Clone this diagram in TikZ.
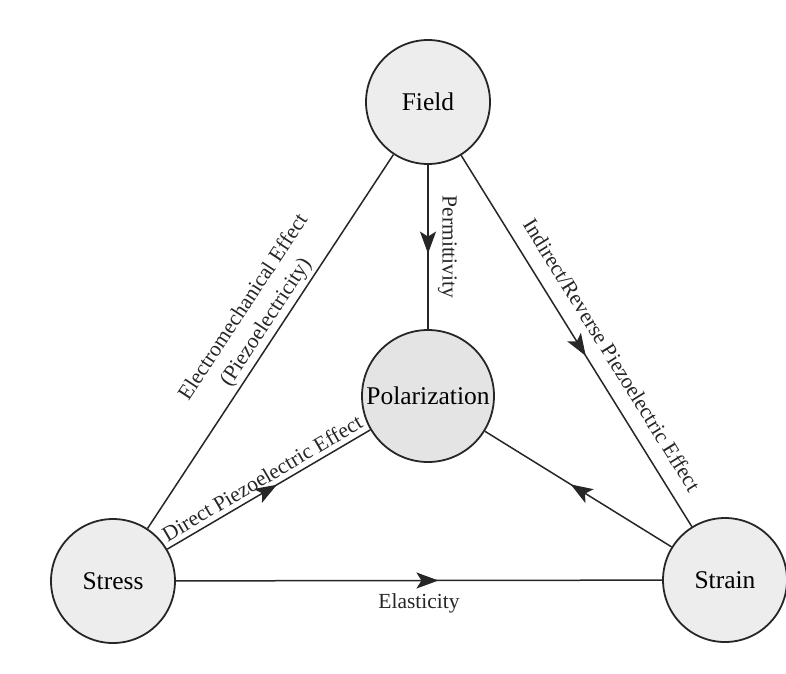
\documentclass[tikz,border=0pt]{standalone}
\usepackage{fontspec}
\setmainfont{Liberation Serif}
\usetikzlibrary{arrows.meta,decorations.markings}
\begin{document}
\begin{tikzpicture}[x=1pt,y=-1pt,
  state/.style={circle,draw=black!85,line width=1.8pt,fill=gray!14,minimum size=124pt,inner sep=0pt,font=\fontsize{25.5}{30}\selectfont},
  link/.style={line width=1.5pt,draw=black!85},
  midarrow/.style={postaction={decorate},decoration={markings,mark=at position #1 with {\arrow{Stealth[length=22pt,width=16pt,inset=5pt]}}}},
  midarrow/.default=0.54,
  lbl/.style={font=\fontsize{21.5}{27}\selectfont,sloped,text=black!85}]
\useasboundingbox (0,0) rectangle (786,673);
\node[state] (field) at (428,102) {Field};
\node[state,minimum size=132pt,fill=gray!21] (pol) at (428,396) {Polarization};
\node[state] (stress) at (113,581) {Stress};
\node[state] (strain) at (725,580) {Strain};
\draw[link] (stress) -- node[lbl,above,align=center,pos=0.53,inner sep=3pt]{Electromechanical Effect\\(Piezoelectricity)} (field);
\draw[link,midarrow] (field) -- node[lbl,above=6pt]{Permittivity} (pol);
\draw[link,midarrow] (field) -- node[lbl,above=11pt,pos=0.57]{Indirect/Reverse Piezoelectric Effect} (strain);
\draw[link,midarrow] (stress) -- node[lbl,above,inner sep=5pt]{Direct Piezoelectric Effect} (pol);
\draw[link,midarrow] (strain) -- (pol);
\draw[link,midarrow] (stress) -- node[lbl,below=9pt]{Elasticity} (strain);
\end{tikzpicture}
\end{document}
